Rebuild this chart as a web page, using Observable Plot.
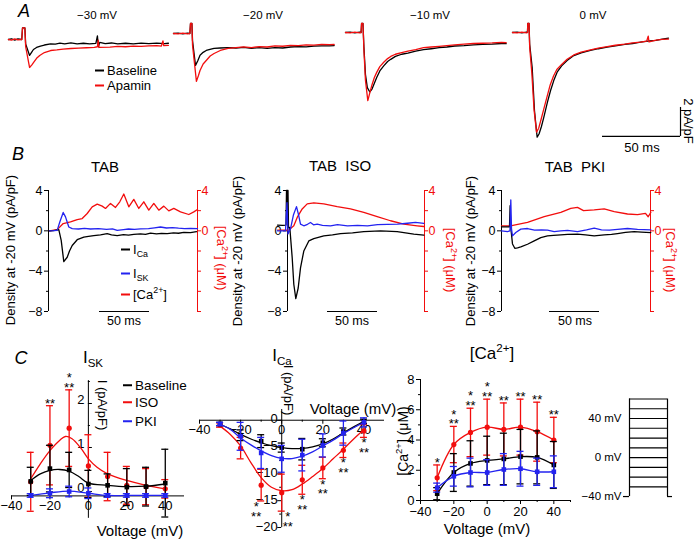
<!DOCTYPE html>
<html><head><meta charset="utf-8">
<script src="https://cdn.jsdelivr.net/npm/d3@7"></script>
<script src="https://cdn.jsdelivr.net/npm/@observablehq/plot@0.6"></script>
<style>
html,body{margin:0;padding:0;background:#fff;}
#fig{position:relative;width:698px;height:545px;overflow:hidden;font-family:"Liberation Sans",Arial,Helvetica,sans-serif;color:#000;background:#fff;}
.t{position:absolute;white-space:pre;line-height:1;}
.c{transform:translate(-50%,-50%);}
.l{transform:translate(0,-50%);}
.r90{transform:translate(-50%,-50%) rotate(90deg);}
.rm90{transform:translate(-50%,-50%) rotate(-90deg);}
.sw{display:inline-block;width:9px;height:2px;vertical-align:middle;margin-right:3px;position:relative;top:-1px;}
sub,sup{font-size:68%;line-height:0;}
</style></head><body><div id="fig"></div>
<script>
// ===================== DATA =====================
const BLACK = "#000000", RED = "#f20d0d", BLUE = "#2323f0";

// ---- Panel A: ICa traces (t ms from trace start, I pA/pF relative to holding)
const aLabels = ["−30 mV", "−20 mV", "−10 mV", "0 mV"];
const aBase30 = [[0,0],[2,0.05],[4,-0.04],[6,0.04],[8.5,0],[9,0.8],[10.5,0.8],[11,-0.3],[13.5,-1.1],[15,-0.85],[16,-0.69],[18,-0.55],[20.5,-0.45],[23,-0.38],[27,-0.3],[30,-0.32],[33,-0.25],[36,-0.3],[40,-0.24],[44,-0.3],[48,-0.26],[52,-0.3],[56,-0.27],[57,0.25],[57.6,-0.5],[58.5,-0.2],[62,-0.28],[66,-0.24],[70,-0.3],[75,-0.26],[80,-0.3],[85,-0.25],[90,-0.29],[95,-0.25],[100,-0.28],[102.5,-0.26]];
const aApa30 = [[0,0],[2,-0.04],[4,0.04],[6,-0.03],[8.5,0],[9,0.8],[10.5,0.8],[11,-0.5],[13.5,-1.93],[15,-1.75],[16,-1.6],[18,-1.3],[20,-1.1],[23,-0.9],[27,-0.76],[31,-0.72],[35,-0.66],[40,-0.62],[45,-0.6],[50,-0.57],[55,-0.55],[57,-0.5],[57.5,-0.05],[58,-0.55],[65,-0.52],[70,-0.48],[75,-0.5],[80,-0.45],[85,-0.48],[90,-0.44],[95,-0.42],[98,-0.45],[99,-0.1],[99.5,-0.42],[102.5,-0.4]];
const aBase20 = [[0,0],[3,0.03],[6,-0.03],[9,0.02],[10.5,0],[10.9,0.69],[11.8,0.69],[12.2,-0.5],[14.1,-2.2],[15.5,-1.9],[17,-1.5],[19,-1.3],[21,-1.17],[24,-1.08],[26,-1.03],[30,-1.0],[35,-0.97],[40,-1.0],[45,-0.96],[50,-1.02],[55,-0.98],[60,-1.02],[65,-0.97],[70,-1.0],[75,-0.93],[80,-0.9],[85,-0.92],[90,-0.87],[95,-0.86],[100,-0.85],[103,-0.83]];
const aApa20 = [[0,0],[3,-0.03],[6,0.03],[9,-0.02],[10.5,0],[10.9,0.69],[11.8,0.69],[12.2,-0.8],[14.7,-3.3],[16,-2.9],[17,-2.55],[19,-2.1],[21,-1.86],[23.5,-1.55],[26,-1.38],[30,-1.17],[35,-1.03],[40,-0.98],[45,-0.92],[50,-0.97],[55,-0.9],[60,-0.93],[65,-0.86],[70,-0.88],[75,-0.82],[80,-0.83],[85,-0.78],[90,-0.8],[95,-0.75],[100,-0.77],[103,-0.76]];
const aBase10 = [[0,0],[3,0.03],[6,-0.02],[9,0.02],[10,0],[10.3,0.62],[11.2,0.62],[11.8,-1.0],[12.8,-2.9],[14,-3.8],[15.6,-4.1],[17,-3.9],[18.5,-3.5],[20,-3.1],[22,-2.65],[24.5,-2.3],[27,-2.0],[29,-1.85],[32,-1.65],[36,-1.5],[40,-1.42],[45,-1.28],[50,-1.18],[55,-1.12],[60,-1.05],[65,-1.0],[70,-0.93],[76,-0.9],[82,-0.85],[88,-0.82],[94,-0.8],[100,-0.76],[103,-0.77]];
const aApa10 = [[0,0],[3,-0.03],[6,0.02],[9,-0.02],[10,0],[10.3,0.62],[11.2,0.62],[11.8,-1.2],[12.8,-3.3],[14.3,-4.7],[15.5,-4.2],[17,-3.6],[18.5,-3.1],[20,-2.75],[22,-2.35],[24.5,-2.05],[27,-1.8],[29,-1.65],[32,-1.5],[36,-1.38],[40,-1.28],[45,-1.18],[50,-1.05],[55,-1.0],[60,-0.95],[65,-0.9],[70,-0.85],[76,-0.8],[82,-0.76],[88,-0.74],[94,-0.72],[100,-0.68],[103,-0.7]];
const aBase0 = [[0,0],[3,0.03],[6,-0.03],[9,0.02],[9.6,0],[9.8,0.62],[10.6,0.62],[11,-0.8],[12.6,-2.4],[14.1,-5.4],[15.8,-7.22],[17,-7.0],[18.5,-6.5],[20.1,-5.84],[22.4,-4.8],[24.4,-4.0],[26.5,-3.3],[28.6,-2.74],[31.5,-2.3],[35,-1.93],[39.3,-1.59],[44,-1.4],[50,-1.24],[55,-1.12],[60.7,-1.01],[66,-0.92],[72,-0.82],[77,-0.76],[82,-0.67],[88,-0.58],[92,-0.54],[96,-0.46],[100,-0.39]];
const aApa0 = [[0,0],[3,-0.03],[6,0.02],[9,-0.02],[9.6,0],[9.8,0.62],[10.6,0.62],[11,-1.0],[12.4,-2.8],[13.8,-5.3],[15.4,-6.87],[16.8,-6.6],[18.3,-6.0],[20,-5.3],[22.2,-4.4],[24.2,-3.6],[26.3,-3.0],[28.4,-2.55],[31.5,-2.2],[35,-1.85],[39.3,-1.55],[44,-1.35],[50,-1.2],[55,-1.08],[60.7,-0.98],[66,-0.88],[72,-0.8],[77,-0.72],[82,-0.66],[86,-0.6],[87,-0.25],[87.5,-0.65],[92,-0.52],[96,-0.48],[100,-0.45]];
const aScaleMs = 50, aScaleAmp = 2;

// ---- Panel B: ICa, ISK (pA/pF) and [Ca2+] (µM) at -20 mV, t in ms
const bTitles = ["TAB", "TAB  ISO", "TAB  PKI"];
const b1Ca = [[1,0],[5,0.02],[10.3,0.12],[12.7,-0.95],[15.3,-3.05],[18.7,-2.62],[21,-2.0],[23.7,-1.45],[28.7,-0.88],[35.3,-0.62],[40,-0.55],[45.3,-0.48],[52,-0.4],[58.7,-0.28],[63,-0.4],[68.7,-0.48],[75,-0.38],[80,-0.42],[85.3,-0.35],[92,-0.3],[97,-0.36],[102,-0.22],[108,-0.3],[113,-0.25],[118.7,-0.28],[125,-0.2],[130,-0.24],[135.3,-0.15],[142,-0.18],[148,-0.08]];
const b1Sk = [[1,0],[5,0.02],[8.7,0.05],[11.3,0.88],[14.7,1.82],[17,1.38],[20.3,0.38],[23.7,0.22],[30,0.18],[36,0.25],[42,0.18],[50,0.22],[58,0.15],[64,0.2],[68.7,0.05],[75,0.12],[80,0.18],[86,0.15],[92,0.2],[100,0.22],[106,0.3],[112,0.38],[118,0.28],[124,0.32],[130,0.26],[136,0.22],[142,0.25],[149,0.22]];
const b1Cai = [[1,0],[8.7,0.12],[14.7,0.72],[22,0.88],[28.7,1.12],[33.7,1.22],[38.7,1.72],[43.7,2.38],[48.7,2.65],[53.7,2.45],[57,2.22],[62,2.72],[67,2.32],[71.3,2.88],[75.3,3.65],[80.3,2.38],[85.3,3.12],[90.3,2.22],[95.3,2.88],[100.3,2.05],[105.3,2.72],[110.3,2.05],[115.3,2.45],[120.3,1.98],[125.3,2.22],[132,1.88],[140.3,1.62],[145.3,1.88],[149,2.12]];
const b2Ca = [[-10,0.57],[-5,0.55],[-1.5,0.57],[-1,4],[0.5,4],[1,0.3],[2.3,0.33],[4.7,-2.67],[6.3,-5.3],[8.3,-6.73],[10.7,-5.67],[13,-3.67],[16.3,-2.0],[21.3,-1.0],[26.3,-0.77],[36.3,-0.5],[45,-0.4],[53,-0.27],[65,-0.2],[76.3,-0.07],[93,0],[109.7,-0.07],[118,-0.2],[126.3,-0.33],[136.3,-0.43]];
const b2Sk = [[-10,0],[-2,0],[-0.5,2.8],[0.5,-0.3],[3,0.2],[6,1.6],[9,2.4],[11,1.6],[13,0.67],[16.3,0.5],[20,0.65],[23,0.83],[26,0.6],[29.7,0.67],[35,0.55],[43,0.5],[50,0.62],[60,0.5],[70,0.55],[80,0.5],[90,0.62],[100,0.65],[110,0.67],[120,0.75],[128,0.83],[136.3,0.73]];
const b2Cai = [[-10,0.07],[1.3,0.07],[6.3,0.5],[9.7,1.33],[14.7,2.17],[19.7,2.67],[26.3,2.77],[36.3,2.67],[49.7,2.4],[63,2.17],[76.3,1.83],[89.7,1.4],[103,1.0],[116.3,0.67],[129.7,0.5],[136.3,0.43]];
const b3Ca = [[0,0.4],[6,0.4],[8,0.4],[8.6,2.5],[9.3,0.3],[11,-1.3],[13.3,-1.73],[16,-1.68],[19.3,-1.6],[26,-1.33],[32.7,-1.0],[39.3,-0.67],[46,-0.5],[52,-0.45],[59.3,-0.4],[66,-0.35],[76,-0.33],[84,-0.4],[92.7,-0.5],[102.7,-0.4],[110,-0.35],[116,-0.27],[124,-0.15],[132.7,-0.07],[140,-0.12],[149.3,-0.17]];
const b3Sk = [[0,0],[6,-0.07],[8.5,0],[9.3,3.07],[10,0.2],[11,-0.5],[14.3,-0.17],[19.3,0.17],[26,0.23],[33,0.07],[40,0.1],[46,0.07],[52.7,-0.07],[59.3,0],[66,0.05],[76,-0.07],[85,0.1],[92.7,0.27],[100,0.1],[108,0.07],[116,0.15],[126,0.23],[136,0.15],[149.3,0.1]];
const b3Cai = [[0,0.5],[9,0.5],[26,0.83],[42.7,1.4],[59.3,1.83],[69.3,2.23],[76,2.33],[82,2.0],[92.7,2.07],[102.7,2.17],[112.7,1.9],[126,1.67],[136,1.6],[144,1.73],[146.7,1.4],[149.3,1.83]];
const bScaleStart = [51, 40, 48];
const bLeftTicks = [4, 0, -4, -8], bRightTicks = [4, 2, 0, -2, -4, -6, -8], bRightLabels = [4, 0];

// ---- Panel C: I-V summaries (voltage mV), mean and SD
const cVolt = [-30, -20, -10, 0, 10, 20, 30, 40];
const skBaseMean = [0.23, 0.52, 0.49, 0.17, 0.14, 0.10, 0.11, 0.19];
const skBaseSd   = [0.32, 0.53, 0.40, 0.31, 0.26, 0.42, 0.44, 0.77];
const skIsoMean  = [0.22, 1.05, 1.44, 0.58, 0.34, 0.14, 0.11, 0.06];
const skIsoSd    = [0.67, 0.90, 0.87, 0.71, 0.55, 0.43, 0.41, 0.21];
const skPkiMean  = [-0.09, -0.04, 0.0, -0.04, -0.09, -0.09, -0.09, -0.09];
const skPkiSd    = [0.04, 0.10, 0.12, 0.12, 0.04, 0.04, 0.04, 0.04];
const skFitBase = [[-30,0.25],[-25,0.4],[-20,0.48],[-15,0.5],[-10,0.46],[-5,0.34],[0,0.19],[10,0.14],[20,0.11],[30,0.12],[40,0.17]];
const skFitIso  = [[-30,0.29],[-25,0.63],[-20,0.93],[-15,1.16],[-12,1.25],[-8.5,1.2],[-4,0.99],[0,0.74],[4.5,0.55],[10,0.4],[20,0.25],[30,0.14],[40,0.06]];
const skFitPki  = [[-30,-0.09],[-20,-0.03],[-10,0.01],[0,-0.04],[10,-0.09],[20,-0.09],[30,-0.09],[40,-0.09]];
const skStars = [{v: -20, s: "**"}, {v: -10, s: "*\n**"}];

const caBaseMean = [-0.7, -2.8, -3.9, -5.1, -5.4, -4.2, -2.1, -0.2];
const caBaseSd   = [0.3, 1.0, 1.2, 0.85, 2.0, 0.75, 0.65, 0.4];
const caIsoMean  = [-0.9, -5.2, -12.1, -13.5, -11.1, -8.9, -5.6, -2.0];
const caIsoSd    = [0.4, 2.0, 2.95, 3.45, 2.7, 2.0, 1.35, 1.2];
const caPkiMean  = [-0.7, -3.0, -6.1, -7.2, -6.5, -4.7, -2.4, -0.4];
const caPkiSd    = [0.3, 2.6, 2.9, 2.5, 2.95, 2.15, 2.25, 0.85];
const caFitBase = [[-30,-0.8],[-25,-1.6],[-20,-2.65],[-15,-3.5],[-10,-4.2],[-5,-4.75],[0,-5.1],[5,-5.3],[10,-5.25],[15,-4.95],[20,-4.4],[25,-3.5],[30,-2.35],[35,-1.25],[40,-0.2]];
const caFitPki  = [[-30,-0.8],[-25,-1.7],[-20,-3.3],[-15,-4.6],[-10,-5.7],[-5,-6.6],[0,-7.1],[5,-7.15],[10,-6.7],[15,-5.9],[20,-4.8],[25,-3.7],[30,-2.5],[35,-1.4],[40,-0.37]];
const caFitIso  = [[-30,-1.1],[-25,-2.65],[-20,-4.8],[-15,-7.9],[-10,-10.7],[-5,-12.5],[0,-13.15],[5,-12.96],[10,-11.9],[15,-10.5],[20,-9.0],[25,-7.2],[30,-5.4],[35,-3.5],[40,-1.73]];
const caStars = [-10, 0, 10, 20, 30, 40].map(v => ({v, s: "*\n**"}));

const ciBaseMean = [0.45, 1.85, 2.45, 2.65, 2.75, 2.9, 2.85, 2.35];
const ciBaseSd   = [0.4, 1.25, 1.5, 1.6, 1.7, 1.8, 1.75, 1.55];
const ciIsoMean  = [1.5, 3.7, 4.5, 4.85, 4.7, 4.85, 4.55, 4.0];
const ciIsoSd    = [0.85, 1.2, 1.6, 1.85, 1.75, 1.85, 1.95, 1.5];
const ciPkiMean  = [0.85, 1.6, 1.85, 1.85, 2.05, 2.1, 1.9, 1.9];
const ciPkiSd    = [0.3, 0.65, 0.95, 0.85, 1.05, 1.15, 0.9, 1.05];
const ciStars = [{v:-30,s:"*"},{v:-20,s:"*\n**"},{v:-10,s:"*\n**"},{v:0,s:"*\n**"},{v:10,s:"**"},{v:20,s:"**"},{v:30,s:"**"},{v:40,s:"**"}];

// ---- Voltage protocol (mV)
const protoHold = -40;
const protoSteps = [-30, -20, -10, 0, 10, 20, 30, 40, 50, 60];
const protoLabels = [40, 0, -40];
const protoTimes = [0, 6, 44, 49]; // hold start, step on, step off, end

// ===================== DRAWING =====================
const FONT = '"Liberation Sans", Arial, Helvetica, sans-serif';
const fig = document.getElementById("fig");
const fmt = d => (d < 0 ? "\u2212" + Math.abs(d) : String(d));
const rows = (m, s) => cVolt.map((v, i) => ({v, m: m[i], lo: m[i] - s[i], hi: m[i] + s[i]}));
const P = () => ({x: d => d[0], y: d => d[1]});

function panel(o, build) {
  const kx = o.width / (o.xd[1] - o.xd[0]);
  const ky = o.height / (o.yd[1] - o.yd[0]);
  const svg = Plot.plot({
    width: o.width, height: o.height, margin: 0,
    x: {domain: o.xd, range: [0, o.width], axis: null},
    y: {domain: o.yd, range: [o.height, 0], axis: null},
    style: {background: "none", overflow: "visible", fontFamily: FONT, fontSize: "12px", color: "#000"},
    marks: build(kx, ky)
  });
  svg.style.position = "absolute";
  svg.style.left = o.left + "px";
  svg.style.top = o.top + "px";
  svg.style.maxWidth = "none";
  fig.appendChild(svg);
}

function label(html, x, y, o = {}) {
  const d = document.createElement("div");
  d.className = "t " + (o.cls || "c");
  d.innerHTML = html;
  d.style.left = x + "px"; d.style.top = y + "px";
  d.style.fontSize = (o.size || 13) + "px";
  d.style.color = o.color || "#000";
  if (o.italic) d.style.fontStyle = "italic";
  fig.appendChild(d);
}

function vAxis(kx, o) {
  const c = o.color || "#000", ts = o.tickSide ?? -1, ls = o.labelSide ?? -1;
  return [
    Plot.ruleX([o.x], {x: d => d, y1: () => o.y1, y2: () => o.y2, stroke: c}),
    Plot.ruleY(o.ticks || [], {y: d => d, x1: () => o.x, x2: () => o.x + ts * (o.len ?? 4) / kx, stroke: c}),
    Plot.ruleY(o.minor || [], {y: d => d, x1: () => o.x, x2: () => o.x + ts * 2 / kx, stroke: c}),
    Plot.text(o.labels || [], {x: () => o.x, y: d => d, text: fmt, dx: ls * (o.pad ?? 6), dy: o.dy || 0,
      textAnchor: ls < 0 ? "end" : "start", fill: c, fontSize: o.size || 12})
  ];
}
function hAxis(ky, o) {
  const c = o.color || "#000";
  return [
    Plot.ruleY([o.y], {y: d => d, x1: () => o.x1, x2: () => o.x2, stroke: c}),
    Plot.ruleX(o.ticks || [], {x: d => d, y1: () => o.y, y2: () => o.y - (o.len ?? 4) / ky, stroke: c}),
    Plot.ruleX(o.minor || [], {x: d => d, y1: () => o.y, y2: () => o.y - 2 / ky, stroke: c}),
    Plot.text(o.labels || [], {x: d => d, y: () => o.y, text: fmt, dy: o.pad ?? 6, lineAnchor: "top", fill: c, fontSize: o.size || 13})
  ];
}
function errBars(data, kx, color, cap = 3.5) {
  return [
    Plot.ruleX(data, {x: "v", y1: "lo", y2: "hi", stroke: color, strokeWidth: 1.3}),
    Plot.ruleY(data, {y: "hi", x1: d => d.v - cap / kx, x2: d => d.v + cap / kx, stroke: color, strokeWidth: 1.3}),
    Plot.ruleY(data, {y: "lo", x1: d => d.v - cap / kx, x2: d => d.v + cap / kx, stroke: color, strokeWidth: 1.3})
  ];
}
function series(data, fit, kx, color, symbol, curve = "catmull-rom") {
  return [
    ...errBars(data, kx, color),
    Plot.line(fit, {...P(), stroke: color, strokeWidth: 1.3, curve}),
    Plot.dot(data, {x: "v", y: "m", symbol, r: 2.6, fill: color, stroke: null})
  ];
}

// ---------- Panel A ----------
const aFrames = [
  {left: 8, top: 25, base: aBase30, apa: aApa30},
  {left: 173, top: 19, base: aBase20, apa: aApa20},
  {left: 345, top: 18, base: aBase10, apa: aApa10},
  {left: 512, top: 18, base: aBase0, apa: aApa0}
];
aFrames.forEach((f, i) => {
  panel({left: f.left, top: f.top, width: 165, height: 130, xd: [0, 165 / 1.56], yd: [-8, 14 / 14.5]}, (kx, ky) => {
    const m = [
      Plot.line(f.base, {...P(), stroke: BLACK, strokeWidth: 1.3}),
      Plot.line(f.apa, {...P(), stroke: RED, strokeWidth: 1.3})
    ];
    if (i === 3) {
      const t1 = 107.7, y0 = -7.17;
      m.push(Plot.ruleY([y0], {y: d => d, x1: () => t1 - aScaleMs, x2: () => t1, stroke: BLACK, strokeWidth: 1.2}));
      m.push(Plot.ruleX([t1], {x: d => d, y1: () => y0, y2: () => y0 + aScaleAmp, stroke: BLACK, strokeWidth: 1.2}));
    }
    return m;
  });
});
label("A", 24, 11, {size: 18, italic: true});
label(aLabels[0], 97, 16, {size: 11.5});
label(aLabels[1], 263, 16, {size: 11.5});
label(aLabels[2], 430, 16, {size: 11.5});
label(aLabels[3], 593, 16, {size: 11.5});
label('<span class="sw" style="background:#000"></span>Baseline', 95, 70, {cls: "l", size: 13});
label('<span class="sw" style="background:' + RED + '"></span>Apamin', 95, 85, {cls: "l", size: 13});
label(aScaleMs + " ms", 642, 147, {size: 13});
label(aScaleAmp + " pA/pF", 688, 121, {cls: "r90", size: 13});

// ---------- Panel B ----------
const bFrames = [
  {left: 48, width: 149, ca: b1Ca, sk: b1Sk, cai: b1Cai},
  {left: 287, width: 137, ca: b2Ca, sk: b2Sk, cai: b2Cai},
  {left: 501, width: 149, ca: b3Ca, sk: b3Sk, cai: b3Cai}
];
bFrames.forEach((f, i) => {
  panel({left: f.left, top: 190, width: f.width, height: 121, xd: [0, f.width], yd: [-8, 4]}, (kx, ky) => [
    ...vAxis(kx, {x: 0, y1: -8, y2: 4, ticks: bLeftTicks, minor: [2, -2, -6], labels: bLeftTicks, size: 12.5}),
    ...vAxis(kx, {x: f.width, y1: -8, y2: 4, ticks: bRightTicks, labels: bRightLabels, color: RED, tickSide: 1, labelSide: 1, pad: 4, size: 12.5}),
    Plot.line(f.cai, {...P(), stroke: RED, strokeWidth: 1.3}),
    Plot.line(f.ca, {...P(), stroke: BLACK, strokeWidth: 1.3}),
    Plot.line(f.sk, {...P(), stroke: BLUE, strokeWidth: 1.3}),
    Plot.ruleY([-8], {y: d => d, x1: () => bScaleStart[i], x2: () => bScaleStart[i] + 50, stroke: BLACK, strokeWidth: 1.2})
  ]);
});
label("B", 18, 154, {size: 18, italic: true});
label(bTitles[0], 105, 166, {size: 15});
label(bTitles[1], 340, 165, {size: 15});
label(bTitles[2], 575, 166, {size: 15});
[[10, 250], [237, 251], [470, 251]].forEach(([x, y]) => label("Density at -20 mV (pA/pF)", x, y, {cls: "rm90", size: 13}));
[[221, 258], [450, 260], [670, 260]].forEach(([x, y]) => label("[Ca<sup>2+</sup>] (\u03bcM)", x, y, {cls: "r90", size: 13, color: RED}));
[[124, 321], [352, 321], [575, 321]].forEach(([x, y]) => label("50 ms", x, y, {size: 12.5}));
label('<span class="sw" style="background:#000"></span>I<sub>Ca</sub>', 121, 249, {cls: "l", size: 13});
label('<span class="sw" style="background:' + BLUE + '"></span>I<sub>SK</sub>', 121, 273, {cls: "l", size: 13});
label('<span class="sw" style="background:' + RED + '"></span>[Ca<sup>2+</sup>]', 121, 294, {cls: "l", size: 13});

// ---------- Panel C1: ISK ----------
panel({left: 11, top: 378, width: 173, height: 143, xd: [-40, 50], yd: [-0.682, 2.568]}, (kx, ky) => [
  ...hAxis(ky, {y: -0.1, x1: -40, x2: 50, ticks: [-40, -20, 0, 20, 40], minor: [-30, -10, 10, 30], labels: [-40, -20, 0, 20, 40], pad: 5}),
  ...vAxis(kx, {x: 0, y1: -0.61, y2: 2.52, ticks: [0, 1, 2], minor: [0.5, 1.5, 2.5], labels: [0, 1, 2], tickSide: 1, labelSide: -1, pad: 4, dy: -4, size: 13}),
  ...series(rows(skIsoMean, skIsoSd), skFitIso, kx, RED, "circle"),
  ...series(rows(skBaseMean, skBaseSd), skFitBase, kx, BLACK, "square"),
  ...series(rows(skPkiMean, skPkiSd), skFitPki, kx, BLUE, "square"),
  Plot.text(skStars, {x: "v", y: d => skIsoMean[cVolt.indexOf(d.v)] + skIsoSd[cVolt.indexOf(d.v)], text: "s", lineAnchor: "bottom", dy: 2, fontSize: 13, lineHeight: 0.75})
]);
label("C", 21, 358, {size: 18, italic: true});
label("I<sub>SK</sub>", 93, 357, {size: 17});
label("I (pA/pF)", 102, 405, {cls: "r90", size: 13});
label("Voltage (mV)", 140, 530, {size: 15});
label('<span class="sw" style="background:#000"></span>Baseline', 123, 386, {cls: "l", size: 13.5});
label('<span class="sw" style="background:' + RED + '"></span>ISO', 123, 403, {cls: "l", size: 13.5});
label('<span class="sw" style="background:' + BLUE + '"></span>PKI', 123, 422, {cls: "l", size: 13.5});

// ---------- Panel C2: ICa ----------
const caStarY = d => caIsoMean[cVolt.indexOf(d.v)] - caIsoSd[cVolt.indexOf(d.v)];
const starOpts = {x: "v", y: caStarY, text: "s", lineAnchor: "top", dy: 3, fontSize: 13, lineHeight: 0.75};
panel({left: 199, top: 409, width: 185, height: 118, xd: [-40, 50], yd: [-20, 2]}, (kx, ky) => [
  ...hAxis(ky, {y: 0, x1: -40, x2: 50, ticks: [-40, -20, 0, 20, 40], minor: [-30, -10, 10, 30], labels: [-40, -20, 0, 20, 40], pad: 5}),
  ...vAxis(kx, {x: 0, y1: -20, y2: 2, ticks: [0, -5, -10, -15, -20], minor: [-2.5, -7.5, -12.5, -17.5], labels: [0, -5, -10, -15, -20], pad: 4, dy: -1, size: 13}),
  ...series(rows(caIsoMean, caIsoSd), caFitIso, kx, RED, "circle"),
  ...series(rows(caBaseMean, caBaseSd), caFitBase, kx, BLACK, "square"),
  ...series(rows(caPkiMean, caPkiSd), caFitPki, kx, BLUE, "square"),
  Plot.text(caStars.filter(d => d.v > 0), starOpts),
  Plot.text(caStars.filter(d => d.v === 0), {...starOpts, dx: 6}),
  Plot.text(caStars.filter(d => d.v < 0), {...starOpts, dx: -5})
]);
label("I<sub>Ca</sub>", 282, 355, {size: 17});
label("I (pA/pF)", 288, 390, {cls: "r90", size: 13});
label("Voltage (mV)", 353, 408, {size: 15});

// ---------- Panel C3: [Ca2+] ----------
panel({left: 420, top: 379, width: 150, height: 121, xd: [-40, 50], yd: [0, 8]}, (kx, ky) => [
  ...hAxis(ky, {y: 0, x1: -40, x2: 50, ticks: [-40, -20, 0, 20, 40], minor: [-30, -10, 10, 30, 50], labels: [-40, -20, 0, 20, 40], pad: 6}),
  ...vAxis(kx, {x: -40, y1: 0, y2: 8, ticks: [0, 2, 4, 6, 8], minor: [1, 3, 5, 7], labels: [0, 2, 4, 6, 8], pad: 6, size: 13}),
  ...series(rows(ciIsoMean, ciIsoSd), cVolt.map((v, i) => [v, ciIsoMean[i]]), kx, RED, "circle"),
  ...series(rows(ciBaseMean, ciBaseSd), cVolt.map((v, i) => [v, ciBaseMean[i]]), kx, BLACK, "square"),
  ...series(rows(ciPkiMean, ciPkiSd), cVolt.map((v, i) => [v, ciPkiMean[i]]), kx, BLUE, "square"),
  Plot.text(ciStars, {x: "v", y: d => ciIsoMean[cVolt.indexOf(d.v)] + ciIsoSd[cVolt.indexOf(d.v)], text: "s", lineAnchor: "bottom", dy: 2, fontSize: 13, lineHeight: 0.75})
]);
label("[Ca<sup>2+</sup>]", 492, 353, {size: 17});
label("[Ca<sup>2+</sup>] (\u03bcM)", 403, 441, {cls: "rm90", size: 14});
label("Voltage (mV)", 487, 528, {size: 15});

// ---------- Voltage protocol ----------
panel({left: 623, top: 395, width: 49, height: 103, xd: [0, 49], yd: [-42, 63.6]}, (kx, ky) => [
  Plot.ruleY(protoSteps, {y: d => d, x1: () => protoTimes[1], x2: () => protoTimes[2], stroke: BLACK, strokeWidth: 1.2}),
  Plot.ruleX([protoTimes[1], protoTimes[2]], {x: d => d, y1: () => protoHold, y2: () => d3.max(protoSteps), stroke: BLACK, strokeWidth: 1.2}),
  Plot.ruleY([protoHold], {y: d => d, x1: () => protoTimes[0], x2: () => protoTimes[1], stroke: BLACK, strokeWidth: 1.2}),
  Plot.ruleY([protoHold], {y: d => d, x1: () => protoTimes[2], x2: () => protoTimes[3], stroke: BLACK, strokeWidth: 1.2}),
  Plot.text(protoLabels, {x: () => 0, y: d => d, text: d => fmt(d) + " mV", textAnchor: "end", dx: -2, fontSize: 11.5})
]);
</script></body></html>
